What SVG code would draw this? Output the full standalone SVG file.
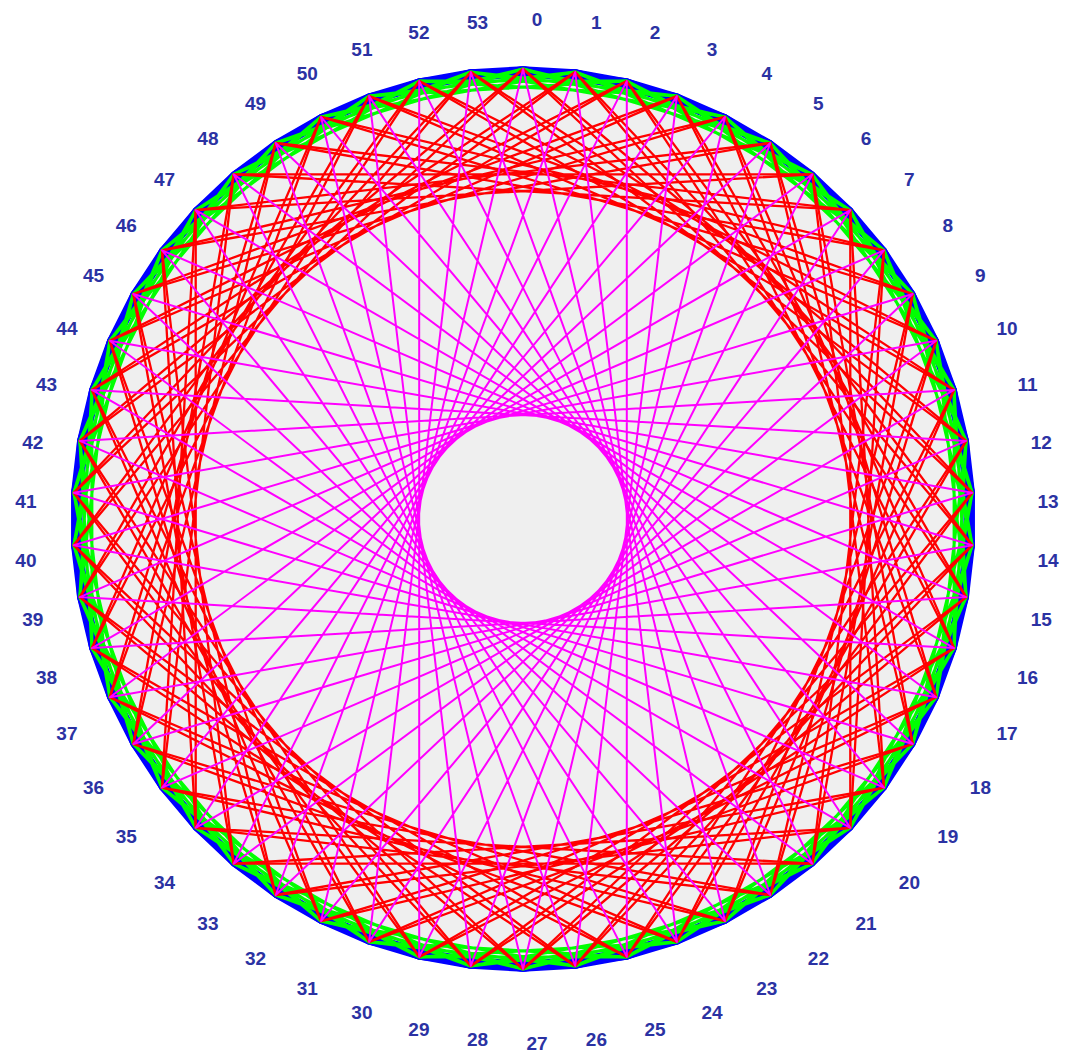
<svg xmlns="http://www.w3.org/2000/svg" width="1071" height="1057" viewBox="0 0 1071 1057">
<style>
.lbl{font-family:"Liberation Sans",Arial,sans-serif;font-size:19px;font-weight:bold;fill:#2b32a3;text-anchor:middle;dominant-baseline:central}
.c{fill:none;stroke-linejoin:round;stroke-linecap:round}
.kb{stroke:#0000ff;stroke-width:5.5}
.kg{stroke:#00ff00;stroke-width:3}
.kr{stroke:#ff0000;stroke-width:2.3}
.km{stroke:#ff00ff;stroke-width:2}
</style>
<rect width="1071" height="1057" fill="#ffffff"/>
<path id="disc" fill="#efefef" d="M523,69 575.2,72 626.8,81.1 676.9,96.1 725,116.9 770.3,143 812.3,174.3 850.3,210.2 884,250.3 912.7,294 936.2,340.8 954.1,389.9 966.2,440.9 972.2,492.8 972.2,545.2 966.2,597.1 954.1,648.1 936.2,697.2 912.7,744 884,787.7 850.3,827.8 812.3,863.7 770.3,895 725,921.1 676.9,941.9 626.8,956.9 575.2,966 523,969 470.8,966 419.2,956.9 369.1,941.9 321,921.1 275.7,895 233.7,863.7 195.7,827.8 162,787.7 133.3,744 109.8,697.2 91.9,648.1 79.8,597.1 73.8,545.2 73.8,492.8 79.8,440.9 91.9,389.9 109.8,340.8 133.3,294 162,250.3 195.7,210.2 233.7,174.3 275.7,143 321,116.9 369.1,96.1 419.2,81.1 470.8,72Z"/>
<g id="connectors">
<g id="blue-steps-1-3">
<path class="c kb" d="M523,69 575.2,72 626.8,81.1 676.9,96.1 725,116.9 770.3,143 812.3,174.3 850.3,210.2 884,250.3 912.7,294 936.2,340.8 954.1,389.9 966.2,440.9 972.2,492.8 972.2,545.2 966.2,597.1 954.1,648.1 936.2,697.2 912.7,744 884,787.7 850.3,827.8 812.3,863.7 770.3,895 725,921.1 676.9,941.9 626.8,956.9 575.2,966 523,969 470.8,966 419.2,956.9 369.1,941.9 321,921.1 275.7,895 233.7,863.7 195.7,827.8 162,787.7 133.3,744 109.8,697.2 91.9,648.1 79.8,597.1 73.8,545.2 73.8,492.8 79.8,440.9 91.9,389.9 109.8,340.8 133.3,294 162,250.3 195.7,210.2 233.7,174.3 275.7,143 321,116.9 369.1,96.1 419.2,81.1 470.8,72Z"/>
<path class="c kb" d="M523,69 626.8,81.1 725,116.9 812.3,174.3 884,250.3 936.2,340.8 966.2,440.9 972.2,545.2 954.1,648.1 912.7,744 850.3,827.8 770.3,895 676.9,941.9 575.2,966 470.8,966 369.1,941.9 275.7,895 195.7,827.8 133.3,744 91.9,648.1 73.8,545.2 79.8,440.9 109.8,340.8 162,250.3 233.7,174.3 321,116.9 419.2,81.1Z M575.2,72 676.9,96.1 770.3,143 850.3,210.2 912.7,294 954.1,389.9 972.2,492.8 966.2,597.1 936.2,697.2 884,787.7 812.3,863.7 725,921.1 626.8,956.9 523,969 419.2,956.9 321,921.1 233.7,863.7 162,787.7 109.8,697.2 79.8,597.1 73.8,492.8 91.9,389.9 133.3,294 195.7,210.2 275.7,143 369.1,96.1 470.8,72Z"/>
<path class="c kb" d="M523,69 676.9,96.1 812.3,174.3 912.7,294 966.2,440.9 966.2,597.1 912.7,744 812.3,863.7 676.9,941.9 523,969 369.1,941.9 233.7,863.7 133.3,744 79.8,597.1 79.8,440.9 133.3,294 233.7,174.3 369.1,96.1Z M575.2,72 725,116.9 850.3,210.2 936.2,340.8 972.2,492.8 954.1,648.1 884,787.7 770.3,895 626.8,956.9 470.8,966 321,921.1 195.7,827.8 109.8,697.2 73.8,545.2 91.9,389.9 162,250.3 275.7,143 419.2,81.1Z M626.8,81.1 770.3,143 884,250.3 954.1,389.9 972.2,545.2 936.2,697.2 850.3,827.8 725,921.1 575.2,966 419.2,956.9 275.7,895 162,787.7 91.9,648.1 73.8,492.8 109.8,340.8 195.7,210.2 321,116.9 470.8,72Z"/>
</g>
<g id="green-steps-4-5">
<path class="c kg" d="M523,69 725,116.9 884,250.3 966.2,440.9 954.1,648.1 850.3,827.8 676.9,941.9 470.8,966 275.7,895 133.3,744 73.8,545.2 109.8,340.8 233.7,174.3 419.2,81.1 626.8,81.1 812.3,174.3 936.2,340.8 972.2,545.2 912.7,744 770.3,895 575.2,966 369.1,941.9 195.7,827.8 91.9,648.1 79.8,440.9 162,250.3 321,116.9Z M575.2,72 770.3,143 912.7,294 972.2,492.8 936.2,697.2 812.3,863.7 626.8,956.9 419.2,956.9 233.7,863.7 109.8,697.2 73.8,492.8 133.3,294 275.7,143 470.8,72 676.9,96.1 850.3,210.2 954.1,389.9 966.2,597.1 884,787.7 725,921.1 523,969 321,921.1 162,787.7 79.8,597.1 91.9,389.9 195.7,210.2 369.1,96.1Z"/>
<path class="c kg" d="M523,69 770.3,143 936.2,340.8 966.2,597.1 850.3,827.8 626.8,956.9 369.1,941.9 162,787.7 73.8,545.2 133.3,294 321,116.9 575.2,72 812.3,174.3 954.1,389.9 954.1,648.1 812.3,863.7 575.2,966 321,921.1 133.3,744 73.8,492.8 162,250.3 369.1,96.1 626.8,81.1 850.3,210.2 966.2,440.9 936.2,697.2 770.3,895 523,969 275.7,895 109.8,697.2 79.8,440.9 195.7,210.2 419.2,81.1 676.9,96.1 884,250.3 972.2,492.8 912.7,744 725,921.1 470.8,966 233.7,863.7 91.9,648.1 91.9,389.9 233.7,174.3 470.8,72 725,116.9 912.7,294 972.2,545.2 884,787.7 676.9,941.9 419.2,956.9 195.7,827.8 79.8,597.1 109.8,340.8 275.7,143Z"/>
</g>
<g id="red-steps-12-13">
<path class="c kr" d="M523,69 966.2,440.9 676.9,941.9 133.3,744 233.7,174.3 812.3,174.3 912.7,744 369.1,941.9 79.8,440.9Z M575.2,72 972.2,492.8 626.8,956.9 109.8,697.2 275.7,143 850.3,210.2 884,787.7 321,921.1 91.9,389.9Z M626.8,81.1 972.2,545.2 575.2,966 91.9,648.1 321,116.9 884,250.3 850.3,827.8 275.7,895 109.8,340.8Z M676.9,96.1 966.2,597.1 523,969 79.8,597.1 369.1,96.1 912.7,294 812.3,863.7 233.7,863.7 133.3,294Z M725,116.9 954.1,648.1 470.8,966 73.8,545.2 419.2,81.1 936.2,340.8 770.3,895 195.7,827.8 162,250.3Z M770.3,143 936.2,697.2 419.2,956.9 73.8,492.8 470.8,72 954.1,389.9 725,921.1 162,787.7 195.7,210.2Z"/>
<path class="c kr" d="M523,69 972.2,492.8 575.2,966 79.8,597.1 419.2,81.1 954.1,389.9 676.9,941.9 109.8,697.2 321,116.9 912.7,294 770.3,895 162,787.7 233.7,174.3 850.3,210.2 850.3,827.8 233.7,863.7 162,250.3 770.3,143 912.7,744 321,921.1 109.8,340.8 676.9,96.1 954.1,648.1 419.2,956.9 79.8,440.9 575.2,72 972.2,545.2 523,969 73.8,545.2 470.8,72 966.2,440.9 626.8,956.9 91.9,648.1 369.1,96.1 936.2,340.8 725,921.1 133.3,744 275.7,143 884,250.3 812.3,863.7 195.7,827.8 195.7,210.2 812.3,174.3 884,787.7 275.7,895 133.3,294 725,116.9 936.2,697.2 369.1,941.9 91.9,389.9 626.8,81.1 966.2,597.1 470.8,966 73.8,492.8Z"/>
</g>
<g id="magenta-step-23">
<path class="c km" d="M523,69 725,921.1 162,250.3 966.2,597.1 91.9,648.1 850.3,210.2 369.1,941.9 470.8,72 770.3,895 133.3,294 972.2,545.2 109.8,697.2 812.3,174.3 419.2,956.9 419.2,81.1 812.3,863.7 109.8,340.8 972.2,492.8 133.3,744 770.3,143 470.8,966 369.1,96.1 850.3,827.8 91.9,389.9 966.2,440.9 162,787.7 725,116.9 523,969 321,116.9 884,787.7 79.8,440.9 954.1,389.9 195.7,827.8 676.9,96.1 575.2,966 275.7,143 912.7,744 73.8,492.8 936.2,340.8 233.7,863.7 626.8,81.1 626.8,956.9 233.7,174.3 936.2,697.2 73.8,545.2 912.7,294 275.7,895 575.2,72 676.9,941.9 195.7,210.2 954.1,648.1 79.8,597.1 884,250.3 321,921.1Z"/>
</g>
</g>
<g id="labels">
<g id="node-0"><text class="lbl" x="537" y="19">0</text></g>
<g id="node-1"><text class="lbl" x="596.4" y="22.5">1</text></g>
<g id="node-2"><text class="lbl" x="655.1" y="32.8">2</text></g>
<g id="node-3"><text class="lbl" x="712.1" y="49.9">3</text></g>
<g id="node-4"><text class="lbl" x="766.8" y="73.5">4</text></g>
<g id="node-5"><text class="lbl" x="818.4" y="103.2">5</text></g>
<g id="node-6"><text class="lbl" x="866.1" y="138.8">6</text></g>
<g id="node-7"><text class="lbl" x="909.4" y="179.6">7</text></g>
<g id="node-8"><text class="lbl" x="947.7" y="225.3">8</text></g>
<g id="node-9"><text class="lbl" x="980.4" y="275">9</text></g>
<g id="node-10"><text class="lbl" x="1007.1" y="328.2">10</text></g>
<g id="node-11"><text class="lbl" x="1027.5" y="384.2">11</text></g>
<g id="node-12"><text class="lbl" x="1041.2" y="442.1">12</text></g>
<g id="node-13"><text class="lbl" x="1048.1" y="501.2">13</text></g>
<g id="node-14"><text class="lbl" x="1048.1" y="560.8">14</text></g>
<g id="node-15"><text class="lbl" x="1041.2" y="619.9">15</text></g>
<g id="node-16"><text class="lbl" x="1027.5" y="677.8">16</text></g>
<g id="node-17"><text class="lbl" x="1007.1" y="733.8">17</text></g>
<g id="node-18"><text class="lbl" x="980.4" y="787">18</text></g>
<g id="node-19"><text class="lbl" x="947.7" y="836.8">19</text></g>
<g id="node-20"><text class="lbl" x="909.4" y="882.4">20</text></g>
<g id="node-21"><text class="lbl" x="866.1" y="923.2">21</text></g>
<g id="node-22"><text class="lbl" x="818.4" y="958.8">22</text></g>
<g id="node-23"><text class="lbl" x="766.8" y="988.5">23</text></g>
<g id="node-24"><text class="lbl" x="712.1" y="1012.1">24</text></g>
<g id="node-25"><text class="lbl" x="655.1" y="1029.2">25</text></g>
<g id="node-26"><text class="lbl" x="596.4" y="1039.5">26</text></g>
<g id="node-27"><text class="lbl" x="537" y="1043">27</text></g>
<g id="node-28"><text class="lbl" x="477.6" y="1039.5">28</text></g>
<g id="node-29"><text class="lbl" x="418.9" y="1029.2">29</text></g>
<g id="node-30"><text class="lbl" x="361.9" y="1012.1">30</text></g>
<g id="node-31"><text class="lbl" x="307.2" y="988.5">31</text></g>
<g id="node-32"><text class="lbl" x="255.6" y="958.8">32</text></g>
<g id="node-33"><text class="lbl" x="207.9" y="923.2">33</text></g>
<g id="node-34"><text class="lbl" x="164.6" y="882.4">34</text></g>
<g id="node-35"><text class="lbl" x="126.3" y="836.8">35</text></g>
<g id="node-36"><text class="lbl" x="93.6" y="787">36</text></g>
<g id="node-37"><text class="lbl" x="66.9" y="733.8">37</text></g>
<g id="node-38"><text class="lbl" x="46.5" y="677.8">38</text></g>
<g id="node-39"><text class="lbl" x="32.8" y="619.9">39</text></g>
<g id="node-40"><text class="lbl" x="25.9" y="560.8">40</text></g>
<g id="node-41"><text class="lbl" x="25.9" y="501.2">41</text></g>
<g id="node-42"><text class="lbl" x="32.8" y="442.1">42</text></g>
<g id="node-43"><text class="lbl" x="46.5" y="384.2">43</text></g>
<g id="node-44"><text class="lbl" x="66.9" y="328.2">44</text></g>
<g id="node-45"><text class="lbl" x="93.6" y="275">45</text></g>
<g id="node-46"><text class="lbl" x="126.3" y="225.3">46</text></g>
<g id="node-47"><text class="lbl" x="164.6" y="179.6">47</text></g>
<g id="node-48"><text class="lbl" x="207.9" y="138.8">48</text></g>
<g id="node-49"><text class="lbl" x="255.6" y="103.2">49</text></g>
<g id="node-50"><text class="lbl" x="307.2" y="73.5">50</text></g>
<g id="node-51"><text class="lbl" x="361.9" y="49.9">51</text></g>
<g id="node-52"><text class="lbl" x="418.9" y="32.8">52</text></g>
<g id="node-53"><text class="lbl" x="477.6" y="22.5">53</text></g>
</g>
</svg>
